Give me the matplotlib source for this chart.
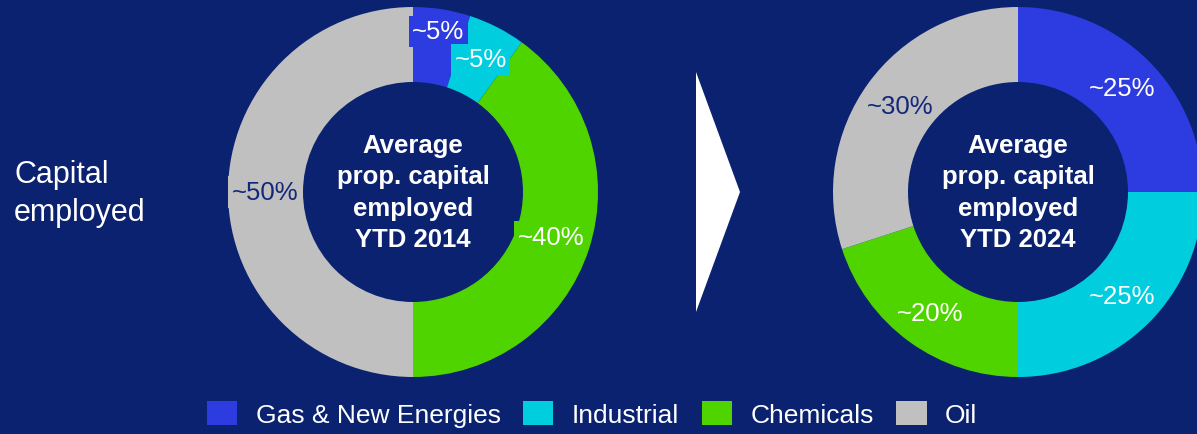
import matplotlib
matplotlib.use("Agg")
import numpy as np
import matplotlib.pyplot as plt
from matplotlib.patches import Patch, Polygon

# ---- data ----
categories = ["Gas & New Energies", "Industrial", "Chemicals", "Oil"]
values_2014 = [5, 5, 40, 50]
values_2024 = [25, 25, 20, 30]
center_2014 = "Average\nprop. capital\nemployed\nYTD 2014"
center_2024 = "Average\nprop. capital\nemployed\nYTD 2024"
row_label = "Capital\nemployed"

# ---- style ----
BG = "#0b2270"
NAVY_TXT = "#13287a"
colors = ["#2d3ce0", "#00cedf", "#4fd400", "#c0c0c0"]
text_colors = ["white", "white", "white", NAVY_TXT]
FONT = "Liberation Sans"

W, H = 1197, 435
fig = plt.figure(figsize=(W / 100, H / 100), dpi=100, facecolor=BG)
ax = fig.add_axes([0, 0, 1, 1])
ax.set_facecolor(BG)

R_OUT, R_IN = 185, 110


def py(y):
    return H - y


def donut(cx, cy, values, title, label_dist, boxed):
    wedges, texts, autotexts = ax.pie(
        values, colors=colors, radius=R_OUT, center=(cx, py(cy)),
        startangle=90, counterclock=False,
        wedgeprops=dict(width=R_OUT - R_IN, linewidth=0),
        autopct=lambda p: "~%d%%" % round(p),
        pctdistance=0.8,
        textprops=dict(fontsize=18.5, family=FONT), frame=False)
    for i, (w, t) in enumerate(zip(wedges, autotexts)):
        ang = np.deg2rad((w.theta1 + w.theta2) / 2)
        r = label_dist[i] * R_OUT
        t.set_position((cx + r * np.cos(ang), py(cy) + r * np.sin(ang)))
        t.set_color(text_colors[i])
        if boxed:
            t.set_bbox(dict(facecolor=colors[i], edgecolor="none", pad=2.5))
    ax.text(cx, py(cy), title, ha="center", va="center", color="white",
            fontsize=18.5, fontweight="bold", family=FONT, linespacing=1.38)


donut(413, 193, values_2014, center_2014, [0.88, 0.805, 0.785, 0.8], True)
donut(1018, 193, values_2024, center_2024, [0.795, 0.795, 0.81, 0.79], False)

# chevron arrow
ax.add_patch(Polygon([(696, py(73)), (740, py(193)), (696, py(313))],
                     closed=True, facecolor="white", edgecolor="none"))

ax.text(14, py(194), row_label, ha="left", va="center", color="white",
        fontsize=22, family=FONT, linespacing=1.38)

handles = [Patch(facecolor=c, edgecolor="none") for c in colors]
leg = ax.legend(handles, categories, loc="center", ncol=4,
                bbox_to_anchor=(592 / W, 1 - 415 / H),
                frameon=False,
                prop=dict(family=FONT, size=19),
                handlelength=1.15, handleheight=1.05,
                handletextpad=0.7, columnspacing=0.85, borderpad=0)
for t in leg.get_texts():
    t.set_color("white")

ax.set_xlim(0, W)
ax.set_ylim(0, H)
ax.set_aspect("equal")
ax.axis("off")

fig.savefig("out.png", dpi=100, facecolor=BG)
